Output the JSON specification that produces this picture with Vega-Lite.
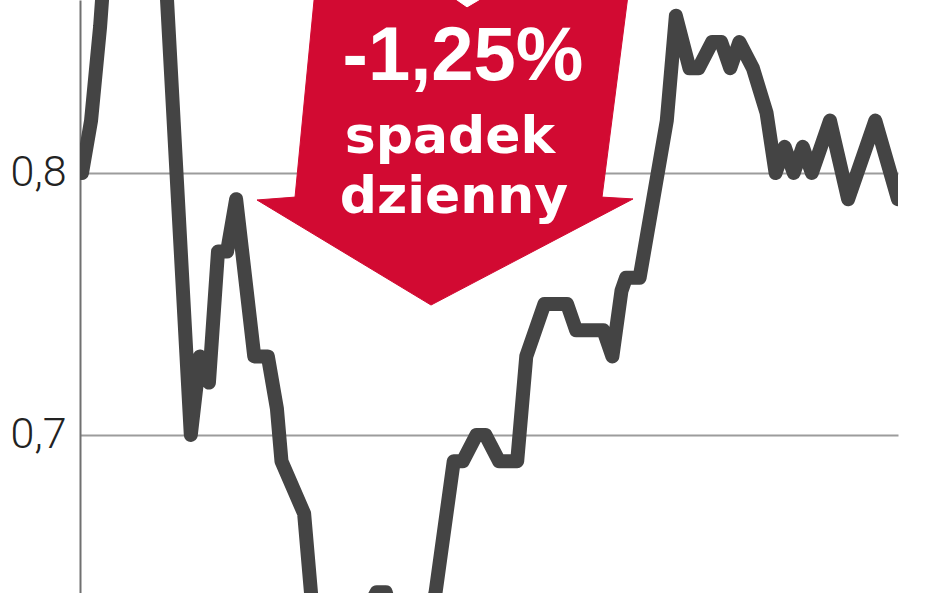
{
  "$schema": "https://vega.github.io/schema/vega-lite/v6.json",
  "width": 818,
  "height": 593,
  "autosize": {"type": "none"},
  "padding": {"left": 80, "top": 0, "right": 50, "bottom": 0},
  "background": "#ffffff",
  "config": {"view": {"stroke": null}},
  "datasets": {
    "kurs": [
      {"d": 0, "v": 0.80}, {"d": 2, "v": 0.82}, {"d": 4, "v": 0.856}, {"d": 5, "v": 0.88},
      {"d": 7, "v": 0.90}, {"d": 9, "v": 0.91}, {"d": 11, "v": 0.905}, {"d": 13, "v": 0.915},
      {"d": 15, "v": 0.91}, {"d": 17, "v": 0.90}, {"d": 18, "v": 0.89}, {"d": 24, "v": 0.70},
      {"d": 26, "v": 0.73}, {"d": 28, "v": 0.72}, {"d": 30, "v": 0.77}, {"d": 32, "v": 0.77},
      {"d": 34, "v": 0.79}, {"d": 38, "v": 0.73}, {"d": 41, "v": 0.73}, {"d": 43, "v": 0.71},
      {"d": 44, "v": 0.69}, {"d": 49, "v": 0.67}, {"d": 51, "v": 0.63}, {"d": 53, "v": 0.62},
      {"d": 56, "v": 0.61}, {"d": 59, "v": 0.62}, {"d": 62, "v": 0.63}, {"d": 65, "v": 0.64},
      {"d": 67, "v": 0.64}, {"d": 70, "v": 0.62}, {"d": 73, "v": 0.615}, {"d": 76, "v": 0.625},
      {"d": 78, "v": 0.64}, {"d": 82, "v": 0.69}, {"d": 84, "v": 0.69}, {"d": 87, "v": 0.70},
      {"d": 89, "v": 0.70}, {"d": 92, "v": 0.69}, {"d": 96, "v": 0.69}, {"d": 98, "v": 0.73},
      {"d": 102, "v": 0.75}, {"d": 107, "v": 0.75}, {"d": 109, "v": 0.74}, {"d": 115, "v": 0.74},
      {"d": 117, "v": 0.73}, {"d": 119, "v": 0.755}, {"d": 120, "v": 0.76}, {"d": 123, "v": 0.76},
      {"d": 126, "v": 0.79}, {"d": 129, "v": 0.82}, {"d": 131, "v": 0.86}, {"d": 134, "v": 0.84},
      {"d": 136, "v": 0.84}, {"d": 139, "v": 0.85}, {"d": 141, "v": 0.85}, {"d": 143, "v": 0.84},
      {"d": 145, "v": 0.85}, {"d": 148, "v": 0.84}, {"d": 151, "v": 0.823}, {"d": 153, "v": 0.80},
      {"d": 155, "v": 0.81}, {"d": 157, "v": 0.80}, {"d": 159, "v": 0.81}, {"d": 161, "v": 0.80},
      {"d": 165, "v": 0.82}, {"d": 169, "v": 0.79}, {"d": 175, "v": 0.82}, {"d": 180, "v": 0.79}
    ],
    "strzalka": [
      {"k": 1, "d": 51.62, "v": 0.8737},
      {"k": 2, "d": 46.99, "v": 0.7908},
      {"k": 3, "d": 38.60, "v": 0.7897},
      {"k": 4, "d": 76.99, "v": 0.7496},
      {"k": 5, "d": 121.55, "v": 0.7901},
      {"k": 6, "d": 114.71, "v": 0.7908},
      {"k": 7, "d": 120.88, "v": 0.8737}
    ],
    "wciecie": [
      {"k": 1, "d": 81.18, "v": 0.8679},
      {"k": 2, "d": 84.93, "v": 0.8634},
      {"k": 3, "d": 89.34, "v": 0.8679}
    ],
    "napis1": [{"d": 84.04, "v": 0.8355, "t": "-1,25%"}],
    "napis2": [
      {"d": 81.18, "v": 0.80763, "t": "spadek"},
      {"d": 82.06, "v": 0.78473, "t": "dzienny"}
    ]
  },
  "encoding": {
    "x": {"field": "d", "type": "quantitative", "scale": {"domain": [-0.441, 180], "nice": false, "zero": false}, "axis": null},
    "y": {
      "field": "v", "type": "quantitative",
      "scale": {"domain": [0.63969, 0.86603], "nice": false, "zero": false},
      "axis": {
        "values": [0.7, 0.8],
        "labelExpr": "replace(format(datum.value, '.1f'), '.', ',')",
        "title": null,
        "grid": true, "gridColor": "#9c9c9c", "gridWidth": 2,
        "domain": true, "domainColor": "#707070", "domainWidth": 2,
        "ticks": false,
        "labelFont": "Roboto", "labelFontWeight": 300, "labelFontSize": 43,
        "labelColor": "#222222", "labelPadding": 14
      }
    }
  },
  "layer": [
    {
      "data": {"name": "strzalka"},
      "mark": {"type": "line", "fill": "#d20a32", "stroke": "#d20a32", "strokeWidth": 1, "clip": true},
      "encoding": {"order": {"field": "k", "type": "quantitative"}}
    },
    {
      "data": {"name": "wciecie"},
      "mark": {"type": "line", "fill": "#ffffff", "stroke": "#ffffff", "strokeWidth": 1, "clip": true},
      "encoding": {"order": {"field": "k", "type": "quantitative"}}
    },
    {
      "data": {"name": "napis1"},
      "mark": {"type": "text", "font": "Liberation Sans", "fontWeight": "bold", "fontSize": 76, "color": "#ffffff", "align": "center", "baseline": "alphabetic"},
      "encoding": {"text": {"field": "t"}}
    },
    {
      "data": {"name": "napis2"},
      "mark": {"type": "text", "font": "DejaVu Sans", "fontWeight": "bold", "fontSize": 52, "color": "#ffffff", "align": "center", "baseline": "alphabetic"},
      "encoding": {"text": {"field": "t"}}
    },
    {
      "data": {"name": "kurs"},
      "mark": {"type": "line", "color": "#444444", "strokeWidth": 14, "strokeJoin": "round", "strokeCap": "round", "clip": true},
      "encoding": {}
    }
  ]
}
